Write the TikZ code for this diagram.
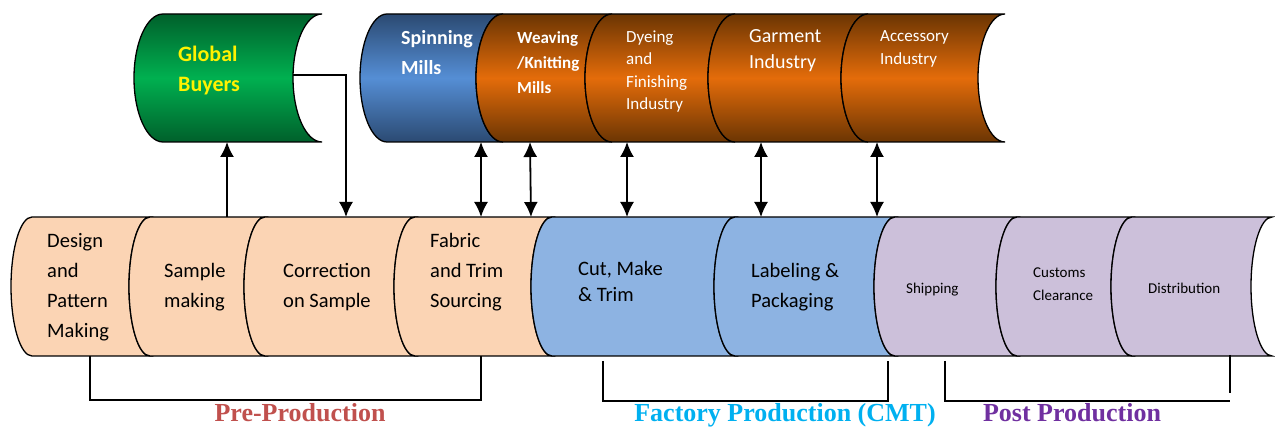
\documentclass[tikz,border=0pt]{standalone}
\usepackage{fontspec}
\setmainfont{Carlito}
\newfontfamily\stagefont{Liberation Serif}
\usetikzlibrary{arrows.meta}

\definecolor{peach}{HTML}{FBD4B4}
\definecolor{cmtblue}{HTML}{8DB3E2}
\definecolor{lilac}{HTML}{CCC0DA}
\definecolor{greendark}{HTML}{00602B}
\definecolor{greenlight}{HTML}{00B050}
\definecolor{bluedark}{HTML}{2B4A72}
\definecolor{bluelight}{HTML}{558ED5}
\definecolor{brown}{HTML}{6B3503}
\definecolor{orange}{HTML}{E46C0A}
\definecolor{prered}{HTML}{C0504D}
\definecolor{cmtcyan}{HTML}{00B0F0}
\definecolor{postpurple}{HTML}{7030A0}

\begin{document}
\begin{tikzpicture}[x=1pt, y=1pt,
  cell/.style={draw=black, line width=1.3pt},
  greencell/.style={cell, top color=greendark, bottom color=greendark, middle color=greenlight},
  bluecell/.style={cell, top color=bluedark, bottom color=bluedark, middle color=bluelight},
  orangecell/.style={cell, top color=brown, bottom color=brown, middle color=orange},
  paths/.style={line width=1.8pt, -{Latex[length=15pt,width=14pt]}},
  twoway/.style={line width=1.8pt, {Latex[length=15pt,width=14pt]}-{Latex[length=15pt,width=14pt]}},
  bracket/.style={line width=1.2pt},
  txt/.style={anchor=west, align=left, inner sep=0pt},
  stage/.style={anchor=base, inner sep=0pt, font=\stagefont\bfseries\fontsize{26}{30}\selectfont}]

 \useasboundingbox (0,0) rectangle (1275,428);

 % bottom row
 \foreach \xa/\xb/\clr in {32/150/peach, 150/265/peach, 265/415/peach, 415/552/peach,
                           552/735/cmtblue, 735/895/cmtblue,
                           895/1017/lilac, 1017/1132/lilac, 1132/1272/lilac}
   \path[cell, fill=\clr] (\xa,211) arc[start angle=90, end angle=270, x radius=21, y radius=69.5]
     -- (\xb,72) arc[start angle=270, end angle=90, x radius=21, y radius=69.5] -- cycle;

 % top row
 \path[greencell] (163,414) arc[start angle=90, end angle=270, x radius=29, y radius=64]
     -- (322,286) arc[start angle=270, end angle=90, x radius=29, y radius=64] -- cycle;
 \path[bluecell] (387,414) arc[start angle=90, end angle=270, x radius=27, y radius=64]
     -- (503,286) arc[start angle=270, end angle=90, x radius=27, y radius=64] -- cycle;
 \foreach \xa/\xb in {503/612, 612/735, 735/868, 868/1005}
   \path[orangecell] (\xa,414) arc[start angle=90, end angle=270, x radius=27, y radius=64]
     -- (\xb,286) arc[start angle=270, end angle=90, x radius=27, y radius=64] -- cycle;

 \node[txt, font=\fontsize{20.5}{30}\selectfont] (design) at (47,140.5)
     {Design\\and\\Pattern\\Making};
 \node[txt, font=\fontsize{20.5}{30}\selectfont] (sample) at (164,141)
     {Sample\\making};
 \node[txt, font=\fontsize{20.5}{30}\selectfont] (correction) at (283,141)
     {Correction\\on Sample};
 \node[txt, font=\fontsize{20.5}{30}\selectfont] (sourcing) at (430,156)
     {Fabric\\and Trim\\Sourcing};
 \node[txt, font=\fontsize{20.5}{26}\selectfont] (cmt) at (578,147)
     {Cut, Make\\\& Trim};
 \node[txt, font=\fontsize{20.5}{30}\selectfont] (labeling) at (751,141)
     {Labeling \&\\Packaging};
 \node[txt, font=\fontsize{15}{23}\selectfont] (shipping) at (906,138)
     {Shipping};
 \node[txt, font=\fontsize{15}{23}\selectfont] (customs) at (1033,143.5)
     {Customs\\Clearance};
 \node[txt, font=\fontsize{15}{23}\selectfont] (distribution) at (1148,140)
     {Distribution};

 \node[txt, text=yellow, font=\bfseries\fontsize{22}{30}\selectfont] (buyers) at (178,357)
     {Global\\Buyers};
 \node[txt, text=white, font=\bfseries\fontsize{20}{30}\selectfont] (spinning) at (401,375)
     {Spinning\\Mills};
 \node[txt, text=white, font=\bfseries\fontsize{17}{25}\selectfont] (weaving) at (517,365)
     {Weaving\\/Knitting\\Mills};
 \node[txt, text=white, font=\fontsize{17}{22.5}\selectfont] (dyeing) at (626,356.5)
     {Dyeing\\and\\Finishing\\Industry};
 \node[txt, text=white, font=\fontsize{20}{26}\selectfont] (garment) at (749,377)
     {Garment\\Industry};
 \node[txt, text=white, font=\fontsize{17}{23}\selectfont] (accessory) at (880,379.5)
     {Accessory\\Industry};

 % arrow ends
 \coordinate (sample-t) at (227,211);
 \coordinate (buyers-b) at (227,286);
 \coordinate (buyers-r) at (293,353);
 \coordinate (correction-t) at (346,211);
 \coordinate (spinning-b) at (481,286);
 \coordinate (sourcing-t) at (481,211);
 \coordinate (weaving-b) at (530,286);
 \coordinate (sourcing-t2) at (531,211);
 \coordinate (dyeing-b) at (627,286);
 \coordinate (cmt-t) at (627,211);
 \coordinate (garment-b) at (761,286);
 \coordinate (labeling-t) at (761,211);
 \coordinate (accessory-b) at (877,286);
 \coordinate (labeling-t2) at (877,211);

 \draw [paths] (sample-t) -- (buyers-b);
 \draw [paths] (buyers-r) -| (correction-t);
 \draw [twoway] (spinning-b) -- (sourcing-t);
 \draw [twoway] (weaving-b) -- (sourcing-t2);
 \draw [twoway] (dyeing-b) -- (cmt-t);
 \draw [twoway] (garment-b) -- (labeling-t);
 \draw [twoway] (accessory-b) -- (labeling-t2);

 % brackets
 \coordinate (pre-l) at (90,72);
 \coordinate (pre-r) at (481,72);
 \coordinate (fac-l) at (603,67);
 \coordinate (fac-r) at (888,67);
 \coordinate (post-l) at (945,67);
 \coordinate (post-c) at (1230,27);
 \coordinate (post-r) at (1230,73);
 \coordinate (post-e) at (1230,35);

 \draw [bracket] (pre-l) -- ++(0,-44) -| (pre-r);
 \draw [bracket] (fac-l) -- ++(0,-40) -| (fac-r);
 \draw [bracket] (post-l) |- (post-c);
 \draw [bracket] (post-r) -- (post-e);

 \node[stage, text=prered] (preprod) at (300,6) {Pre-Production};
 \node[stage, text=cmtcyan] (factory) at (785,6) {Factory Production (CMT)};
 \node[stage, text=postpurple] (postprod) at (1072,6) {Post Production};

\end{tikzpicture}
\end{document}
